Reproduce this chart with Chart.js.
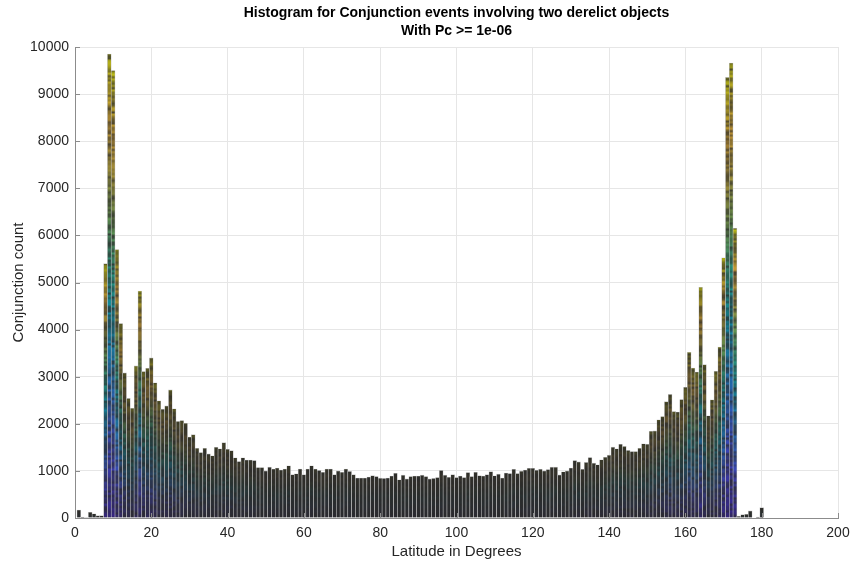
<!DOCTYPE html>
<html>
<head>
<meta charset="utf-8">
<script src="https://cdn.jsdelivr.net/npm/chart.js@4.4.1/dist/chart.umd.min.js"></script>
<style>
  html, body { margin: 0; padding: 0; background: #fff; }
  #wrap { width: 852px; height: 561px; }
</style>
</head>
<body>
<div id="wrap"><canvas id="hist" width="852" height="561"></canvas></div>
<script>
// bin centres, 1 degree wide
const latitudeBins = Array.from({ length: 180 }, (_, i) => i + 1);

const conjunctionCounts = [
  170, 20, 10, 120, 90, 50, 50, 5400, 9850, 9500,
  5700, 4130, 3080, 2540, 2330, 3230, 4820, 3110, 3180, 3400,
  2870, 2490, 2310, 2380, 2720, 2320, 2050, 2070, 2010, 1720,
  1770, 1480, 1390, 1480, 1360, 1320, 1500, 1470, 1600, 1460,
  1430, 1280, 1200, 1280, 1230, 1230, 1220, 1070, 1070, 1000,
  1080, 1040, 1060, 1020, 1040, 1110, 920, 940, 1040, 920,
  1040, 1110, 1040, 1010, 970, 1040, 1040, 920, 1000, 970,
  1040, 990, 920, 850, 850, 850, 870, 900, 880, 845,
  840, 850, 890, 950, 810, 910, 830, 880, 890, 890,
  910, 880, 830, 840, 860, 1010, 910, 865, 920, 860,
  890, 860, 965, 880, 970, 900, 890, 920, 985, 895,
  930, 850, 955, 945, 1035, 945, 995, 1020, 1055, 1055,
  1015, 1035, 1000, 1030, 1080, 1080, 915, 980, 1000, 1060,
  1220, 1190, 1035, 1180, 1285, 1165, 1130, 1235, 1290, 1335,
  1505, 1470, 1565, 1520, 1435, 1410, 1410, 1480, 1575, 1565,
  1840, 1850, 2085, 2155, 2470, 2625, 2260, 2250, 2515, 2775,
  3520, 3185, 3100, 4900, 3255, 2170, 2510, 3115, 3630, 5525,
  9355, 9660, 6150, 40, 70, 80, 150, 0, 20, 220
];

const xTicks = [0, 20, 40, 60, 80, 100, 120, 140, 160, 180, 200];
const yTicks = [0, 1000, 2000, 3000, 4000, 5000, 6000, 7000, 8000, 9000, 10000];

const titleLines = ['Histogram for Conjunction events involving two derelict objects', 'With Pc >= 1e-06'];

const FONT = '"Liberation Sans", Arial, Helvetica, sans-serif';
const TXT = '#262626';
const AXIS = '#8c8c8c';

// parula-ish colormap stops
const cmap = [
  [0.00, [62, 38, 168]],
  [0.15, [70, 80, 240]],
  [0.30, [35, 135, 230]],
  [0.45, [10, 175, 200]],
  [0.55, [45, 188, 155]],
  [0.65, [125, 190, 95]],
  [0.75, [205, 185, 65]],
  [0.85, [252, 190, 58]],
  [0.94, [245, 220, 35]],
  [1.00, [249, 251, 14]]
];

function parula(t) {
  for (let i = 1; i < cmap.length; i++) {
    if (t <= cmap[i][0]) {
      const [t0, c0] = cmap[i - 1], [t1, c1] = cmap[i];
      const f = (t - t0) / (t1 - t0);
      return c0.map((v, k) => v + (c1[k] - v) * f);
    }
  }
  return cmap[cmap.length - 1][1];
}

function grain(a, b) {
  const s = Math.sin(a * 127.1 + b * 311.7) * 43758.5453;
  return s - Math.floor(s);
}

const DARK = [42, 42, 42];

function barFill(ctx) {
  const chart = ctx.chart;
  const y = chart.scales.y;
  const v = ctx.raw && ctx.raw.y;
  if (!y || !v) return 'rgb(42,42,42)';
  const top = y.getPixelForValue(v), base = y.getPixelForValue(0);
  const h = base - top;
  if (!isFinite(h) || h < 3) return 'rgb(42,42,42)';
  const mix = Math.min(0.82, Math.max(0.04, (v - 600) / 6500));
  const g = chart.ctx.createLinearGradient(0, base, 0, top);
  const n = Math.max(2, Math.round(h / 2.2));
  for (let i = 0; i <= n; i++) {
    const t = i / n;
    const c = parula(t);
    const m = mix * (0.2 + 0.8 * grain(ctx.dataIndex, i));
    const col = c.map((ch, k) => Math.round(DARK[k] + (ch * 0.92 - DARK[k]) * m));
    g.addColorStop(t, `rgb(${col[0]},${col[1]},${col[2]})`);
  }
  return g;
}

const titlePlugin = {
  id: 'twoLineTitle',
  afterDraw(chart) {
    const { ctx, chartArea } = chart;
    const cx = (chartArea.left + chartArea.right) / 2;
    ctx.save();
    ctx.fillStyle = '#000';
    ctx.font = `bold 14px ${FONT}`;
    ctx.textAlign = 'center';
    ctx.textBaseline = 'middle';
    ctx.fillText(titleLines[0], cx, 13);
    ctx.fillText(titleLines[1], cx, 31);
    ctx.restore();
  }
};

// matlab style inward tick marks
const tickPlugin = {
  id: 'inTicks',
  afterDraw(chart) {
    const { ctx, chartArea, scales } = chart;
    ctx.save();
    ctx.strokeStyle = AXIS;
    ctx.lineWidth = 1;
    ctx.beginPath();
    yTicks.forEach(t => {
      const py = Math.round(scales.y.getPixelForValue(t)) + 0.5;
      ctx.moveTo(chartArea.left, py);
      ctx.lineTo(chartArea.left + 5, py);
    });
    xTicks.forEach(t => {
      const px = Math.round(scales.x.getPixelForValue(t)) + 0.5;
      ctx.moveTo(px, chartArea.bottom);
      ctx.lineTo(px, chartArea.bottom - 5);
    });
    ctx.stroke();
    ctx.restore();
  }
};

new Chart(document.getElementById('hist').getContext('2d'), {
  type: 'bar',
  data: {
    datasets: [{
      label: 'Conjunction count',
      data: latitudeBins.map((b, i) => ({ x: b, y: conjunctionCounts[i] })),
      backgroundColor: barFill,
      borderColor: '#c2c2c2',
      borderWidth: 0.6,
      borderSkipped: 'start',
      barPercentage: 1,
      categoryPercentage: 1
    }]
  },
  options: {
    responsive: false,
    animation: false,
    layout: { padding: { top: 47, right: 14, left: 0, bottom: 0 } },
    plugins: {
      legend: { display: false },
      tooltip: { enabled: false },
      title: { display: false }
    },
    scales: {
      x: {
        type: 'linear',
        min: 0, max: 200,
        offset: false,
        grid: { offset: false, color: '#e6e6e6', drawTicks: false },
        border: { color: AXIS },
        ticks: { stepSize: 20, padding: 7, color: TXT, font: { family: FONT, size: 14 }, maxRotation: 0, callback: v => String(v) },
        title: { display: true, text: 'Latitude in Degrees', color: TXT, font: { family: FONT, size: 15 }, padding: { top: 0, bottom: 0 } },
        afterFit(s) { s.height = 43; s.paddingLeft = 0; s.paddingRight = 0; }
      },
      y: {
        min: 0, max: 10000,
        grid: { color: '#e6e6e6', drawTicks: false },
        border: { color: AXIS },
        ticks: { stepSize: 1000, padding: 6, color: TXT, font: { family: FONT, size: 14 }, callback: v => String(v) },
        title: { display: true, text: 'Conjunction count', color: TXT, font: { family: FONT, size: 15 }, padding: { top: 10, bottom: 0 } },
        afterFit(s) { s.width = 75; s.paddingTop = 0; s.paddingBottom = 0; }
      }
    }
  },
  plugins: [titlePlugin, tickPlugin]
});
</script>
</body>
</html>
